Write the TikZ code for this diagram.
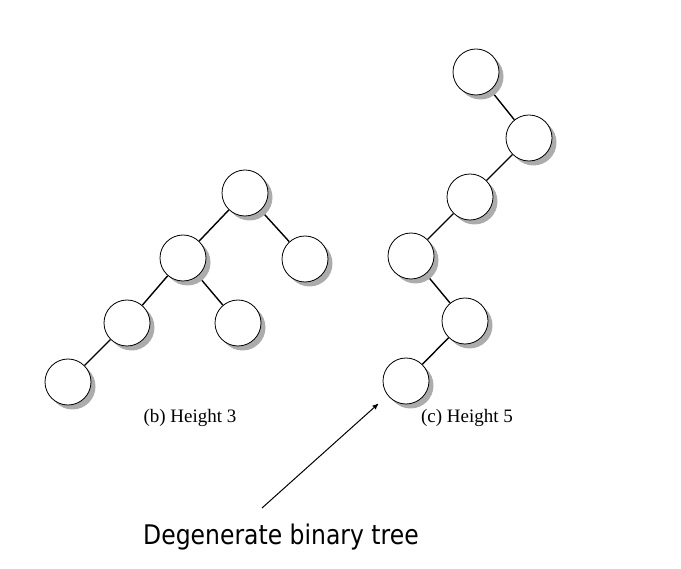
\documentclass[tikz,border=0pt]{standalone}
\usepackage{fontspec}
\setmainfont{Liberation Serif}
\newfontfamily\notefont{DejaVu Sans}
\usepackage{graphicx}
\usepackage{tikz}
\usetikzlibrary{arrows}
\usetikzlibrary{shadows}
\usetikzlibrary{backgrounds}
\tikzset{
    tnode/.style = {circle, draw=black, fill=white, minimum size=46pt, inner sep=0pt, line width=0.8pt,
                    drop shadow={shadow xshift=4.5pt, shadow yshift=-4.5pt, fill=gray!65, opacity=1}},
    tedge/.style = {line width=1.4pt},
    caption/.style = {font=\fontsize{19}{22}\selectfont, inner sep=0pt, anchor=base},
    note/.style = {font=\notefont\fontsize{23.5}{28}\selectfont, inner sep=0pt, anchor=base},
    pointer/.style = {->, >=stealth', line width=1pt}
}

\begin{document}
\begin{tikzpicture}[x=1pt, y=-1pt]
    \useasboundingbox (0,0) rectangle (681,569);
    % (b) height 3
    \node [tnode] (broot) at (245,193) {};
    \node [tnode] (bl)    at (183,258) {};
    \node [tnode] (br)    at (305,259) {};
    \node [tnode] (bll)   at (127,323) {};
    \node [tnode] (blr)   at (238,323) {};
    \node [tnode] (blll)  at (68,382)  {};
    \node [caption] (bcap) at (190,423) {(b) Height 3};
    % (c) height 5
    \node [tnode] (c1) at (476,72)  {};
    \node [tnode] (c2) at (529,138) {};
    \node [tnode] (c3) at (470,197) {};
    \node [tnode] (c4) at (411,256) {};
    \node [tnode] (c5) at (465,321) {};
    \node [tnode] (c6) at (406,381) {};
    \node [caption] (ccap) at (467,423) {(c) Height 5};
    \begin{scope}[on background layer]
        \draw [tedge] (broot) -- (bl);
        \draw [tedge] (broot) -- (br);
        \draw [tedge] (bl) -- (bll);
        \draw [tedge] (bl) -- (blr);
        \draw [tedge] (bll) -- (blll);
        \draw [tedge] (c1) -- (c2);
        \draw [tedge] (c2) -- (c3);
        \draw [tedge] (c3) -- (c4);
        \draw [tedge] (c4) -- (c5);
        \draw [tedge] (c5) -- (c6);
    \end{scope}
    % note
    \node [note] (dbt) at (281,545) {\scalebox{1}[1.15]{Degenerate binary tree}};
    \coordinate (tail) at (262,508);
    \coordinate (tip)  at (378,404);
    \draw [pointer] (tail) -- (tip);
\end{tikzpicture}
\end{document}
